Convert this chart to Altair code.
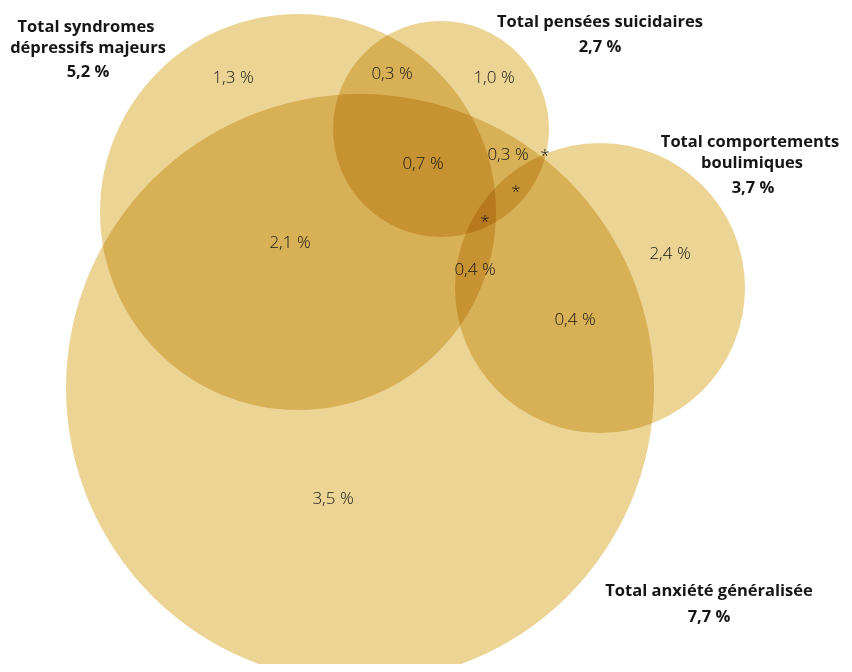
import altair as alt
import pandas as pd

# Circles (chart units = reference pixels)
circle_names = ["Syndromes dépressifs majeurs", "Anxiété généralisée", "Pensées suicidaires", "Comportements boulimiques"]
circle_cx = [298, 360, 441, 600]
circle_cy = [212, 388, 129, 288]
circle_r = [198, 294, 108, 145]

# Region values
region_labels = ["1,3 %", "0,3 %", "1,0 %", "0,3 %", "*", "0,7 %", "*", "*", "2,1 %", "0,4 %", "2,4 %", "0,4 %", "3,5 %"]
region_x = [233, 392, 494, 508, 545, 423, 516, 485, 290, 475, 670, 575, 333]
region_y = [78, 74, 78, 155, 156, 164, 192, 222, 243, 270, 254, 320, 499]

# Titles
title_lines = ["Total syndromes", "dépressifs majeurs", "5,2 %",
               "Total pensées suicidaires", "2,7 %",
               "Total comportements", "boulimiques", "3,7 %",
               "Total anxiété généralisée", "7,7 %"]
title_x = [86, 88, 88, 600, 600, 750, 752, 753, 709, 709]
title_y = [27, 48, 72, 22, 47, 142, 163, 188, 591, 617]

W, H = 836, 656
xs = alt.Scale(domain=[8, 8 + W], nice=False, zero=False)
ys = alt.Scale(domain=[8 + H, 8], nice=False, zero=False)

circles = pd.DataFrame({"name": circle_names, "cx": circle_cx, "cy": circle_cy, "r": circle_r})
regions = pd.DataFrame({"label": region_labels, "x": region_x, "y": region_y})
titles = pd.DataFrame({"label": title_lines, "x": title_x, "y": title_y})

circ = alt.Chart(circles).transform_calculate(
    s="4 * datum.r * datum.r"
).mark_circle(opacity=1, fill="#ebd494", blend="multiply", strokeWidth=0).encode(
    x=alt.X("cx:Q", scale=xs, axis=None),
    y=alt.Y("cy:Q", scale=ys, axis=None),
    size=alt.Size("s:Q", scale=None, legend=None),
)

reg = alt.Chart(regions).mark_text(
    font="Open Sans", fontSize=17, fontWeight=300, color="#161616", baseline="middle", align="center"
).encode(
    x=alt.X("x:Q", scale=xs, axis=None),
    y=alt.Y("y:Q", scale=ys, axis=None),
    text="label:N",
)

tit = alt.Chart(titles).mark_text(
    font="Open Sans", fontSize=16.5, fontWeight="bold", color="#161616", baseline="middle", align="center"
).encode(
    x=alt.X("x:Q", scale=xs, axis=None),
    y=alt.Y("y:Q", scale=ys, axis=None),
    text="label:N",
)

chart = alt.layer(circ, reg, tit).properties(
    width=W, height=H, padding=0, autosize=alt.AutoSizeParams(type="none"), background="white"
).configure_view(stroke=None)

chart.save("out.html", embed_options={"renderer": "svg", "actions": False})
